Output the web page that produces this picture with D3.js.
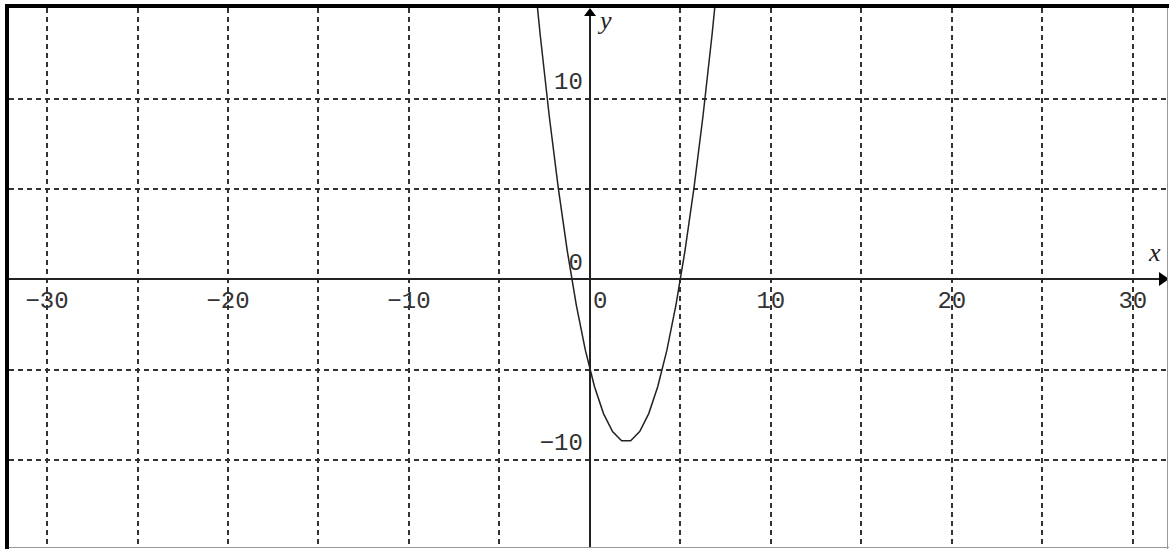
<!DOCTYPE html>
<html>
<head>
<meta charset="utf-8">
<script src="https://cdn.jsdelivr.net/npm/d3@7"></script>
<style>
  html, body { margin: 0; padding: 0; background: #fff; }
  svg { display: block; }
</style>
</head>
<body>
<svg id="chart" width="1169" height="549"></svg>
<script>
// Sampled points of the parabola y = x^2 - 4x - 5
const curveX = [-3.25, -2.75, -2.25, -1.75, -1.25, -0.75, -0.25, 0.25, 0.75, 1.25, 1.75,
                2.25, 2.75, 3.25, 3.75, 4.25, 4.75, 5.25, 5.75, 6.25, 6.75, 7.25];
const curveY = [18.56, 13.56, 9.06, 5.06, 1.56, -1.44, -3.94, -5.94, -7.44, -8.44, -8.94,
                -8.94, -8.44, -7.44, -5.94, -3.94, -1.44, 1.56, 5.06, 9.06, 13.56, 18.56];

// Grid lines and tick labels
const gridX = [-30, -25, -20, -15, -10, -5, 5, 10, 15, 20, 25, 30];
const gridY = [-10, -5, 5, 10];
const xTickLabels = [-30, -20, -10, 0, 10, 20, 30];
const yTickLabels = [10, 0, -10];

const W = 1169, H = 549;
const frame = { left: 9, top: 8, right: 1167.5, bottom: 547.5 };

const x = d3.scaleLinear().domain([-32.6, 32]).range([0, W]);
const y = d3.scaleLinear().domain([15.47, -14.94]).range([0, H]);

const svg = d3.select("#chart");

svg.append("defs").append("clipPath").attr("id", "plot-clip")
  .append("rect")
  .attr("x", frame.left).attr("y", frame.top)
  .attr("width", frame.right - frame.left).attr("height", frame.bottom - frame.top);

const plot = svg.append("g").attr("clip-path", "url(#plot-clip)");

// dashed grid
plot.append("g").selectAll("line").data(gridX).join("line")
  .attr("x1", d => Math.round(x(d))).attr("x2", d => Math.round(x(d)))
  .attr("y1", frame.top).attr("y2", frame.bottom)
  .attr("stroke", "#333").attr("stroke-width", 2)
  .attr("stroke-dasharray", "5,4");

plot.append("g").selectAll("line").data(gridY).join("line")
  .attr("y1", d => Math.round(y(d))).attr("y2", d => Math.round(y(d)))
  .attr("x1", frame.left).attr("x2", frame.right)
  .attr("stroke", "#333").attr("stroke-width", 2)
  .attr("stroke-dasharray", "5,4");

// axes
const x0 = Math.round(x(0)), y0 = Math.round(y(0));
plot.append("line")
  .attr("x1", frame.left).attr("x2", W - 10)
  .attr("y1", y0).attr("y2", y0)
  .attr("stroke", "#222").attr("stroke-width", 2);
plot.append("line")
  .attr("x1", x0).attr("x2", x0)
  .attr("y1", frame.bottom).attr("y2", frame.top + 8)
  .attr("stroke", "#222").attr("stroke-width", 2);

// arrowheads
plot.append("path")
  .attr("d", `M${x0},${frame.top} L${x0 - 6},${frame.top + 8} L${x0 + 6},${frame.top + 8} Z`)
  .attr("fill", "#000");
plot.append("path")
  .attr("d", `M${W},${y0} L${W - 10},${y0 - 7} L${W - 10},${y0 + 7} Z`)
  .attr("fill", "#000");

// curve
const pts = curveX.map((v, i) => [v, curveY[i]]);
plot.append("path")
  .datum(pts)
  .attr("d", d3.line().x(d => x(d[0])).y(d => y(d[1])))
  .attr("fill", "none").attr("stroke", "#222").attr("stroke-width", 1.5);

// tick labels
const fmt = v => (v < 0 ? "\u2212" + Math.abs(v) : String(v));
const labelFont = "'Liberation Mono', monospace";

svg.append("g").selectAll("text").data(xTickLabels).join("text")
  .attr("x", d => d === 0 ? x(0) + 3 : x(d))
  .attr("y", y(0) + 29)
  .attr("text-anchor", d => d === 0 ? "start" : "middle")
  .attr("font-family", labelFont).attr("font-size", 24).attr("fill", "#333")
  .text(fmt);

svg.append("g").selectAll("text").data(yTickLabels).join("text")
  .attr("x", x(0) - 7)
  .attr("y", d => y(d) - 9.5)
  .attr("text-anchor", "end")
  .attr("font-family", labelFont).attr("font-size", 24).attr("fill", "#333")
  .text(fmt);

// axis names
svg.append("text")
  .attr("x", x(0) + 10).attr("y", 29)
  .attr("font-family", "'Liberation Serif', serif").attr("font-style", "italic")
  .attr("font-size", 26).attr("fill", "#222")
  .text("y");
svg.append("text")
  .attr("x", W - 20).attr("y", y(0) - 18)
  .attr("font-family", "'Liberation Serif', serif").attr("font-style", "italic")
  .attr("font-size", 26).attr("fill", "#222")
  .text("x");

// frame: heavy top/left edge, light bottom/right edge
svg.append("line").attr("x1", 5).attr("x2", W).attr("y1", 6).attr("y2", 6)
  .attr("stroke", "#000").attr("stroke-width", 4);
svg.append("line").attr("x1", 7).attr("x2", 7).attr("y1", 4).attr("y2", H)
  .attr("stroke", "#000").attr("stroke-width", 4);
svg.append("line").attr("x1", frame.right).attr("x2", frame.right).attr("y1", 8).attr("y2", H)
  .attr("stroke", "#999").attr("stroke-width", 1);
svg.append("line").attr("x1", 9).attr("x2", W).attr("y1", frame.bottom).attr("y2", frame.bottom)
  .attr("stroke", "#999").attr("stroke-width", 1);
</script>
</body>
</html>
